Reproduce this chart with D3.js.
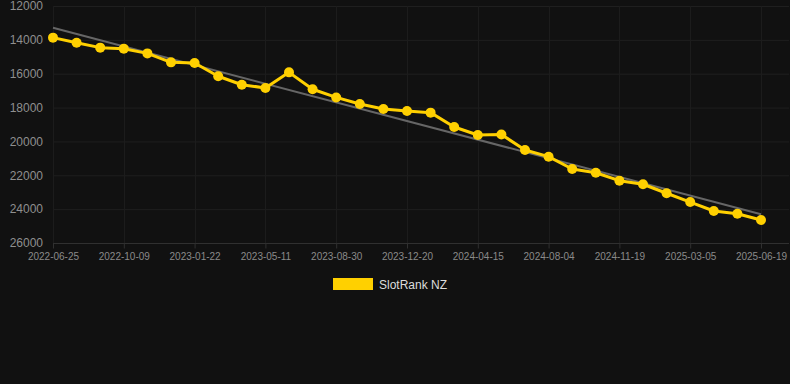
<!DOCTYPE html>
<html>
<head>
<meta charset="utf-8">
<script src="https://cdn.jsdelivr.net/npm/d3@7"></script>
<style>
  html, body { margin: 0; padding: 0; background: #111111; }
  svg { display: block; font-family: "Liberation Sans", Arial, sans-serif; }
</style>
</head>
<body>
<script>
// Data: category dates and rank values
var dates = [
  "2022-06-25", "2022-07-30", "2022-09-03", "2022-10-09", "2022-11-13", "2022-12-18",
  "2023-01-22", "2023-02-27", "2023-04-05", "2023-05-11", "2023-06-16", "2023-07-23",
  "2023-08-30", "2023-10-08", "2023-11-13", "2023-12-20", "2024-01-26", "2024-03-02",
  "2024-04-15", "2024-05-20", "2024-06-26", "2024-08-04", "2024-09-08", "2024-10-14",
  "2024-11-19", "2024-12-24", "2025-01-29", "2025-03-05", "2025-04-09", "2025-05-15",
  "2025-06-19"
];
var ranks = [
  13870, 14170, 14460, 14520, 14800, 15330,
  15370, 16150, 16650, 16840, 15920, 16920,
  17400, 17790, 18080, 18200, 18300, 19150,
  19620, 19590, 20510, 20900, 21630, 21850,
  22320, 22530, 23060, 23580, 24110, 24270,
  24640
];
var yTicks = [12000, 14000, 16000, 18000, 20000, 22000, 24000, 26000];
var seriesName = "SlotRank NZ";

// Set the dimensions and margins of the graph
var W = 790, H = 384;
var margin = {top: 6, right: 29, bottom: 141, left: 53},
    width = W - margin.left - margin.right,
    height = H - margin.top - margin.bottom;

var svg = d3.select("body")
  .append("svg")
    .attr("width", W)
    .attr("height", H);

svg.append("rect")
  .attr("width", W).attr("height", H)
  .attr("fill", "#111111");

var g = svg.append("g")
  .attr("transform", "translate(" + margin.left + "," + margin.top + ")");

// Scales
var x = d3.scalePoint()
  .domain(dates)
  .range([0, width]);

var y = d3.scaleLinear()
  .domain([12000, 26000])
  .range([0, height]);

// Horizontal grid
g.append("g")
  .selectAll("line")
  .data(yTicks)
  .enter()
  .append("line")
    .attr("x1", 0)
    .attr("x2", width + 28)
    .attr("y1", function(d) { return y(d) + 0.5; })
    .attr("y2", function(d) { return y(d) + 0.5; })
    .attr("stroke", function(d) { return d === 26000 ? "#303030" : "#1f1f1f"; })
    .attr("stroke-width", 1);

// Vertical grid at labelled dates
var labelDates = dates.filter(function(d, i) { return i % 3 === 0; });
g.append("g")
  .selectAll("line")
  .data(labelDates)
  .enter()
  .append("line")
    .attr("x1", function(d) { return Math.round(x(d)) + 0.5; })
    .attr("x2", function(d) { return Math.round(x(d)) + 0.5; })
    .attr("y1", 0)
    .attr("y2", height)
    .attr("stroke", "#1c1c1c");

// X axis
var xAxis = g.append("g")
  .attr("transform", "translate(0," + (height + 0.5) + ")")
  .call(d3.axisBottom(x).tickValues(labelDates).tickSize(5).tickPadding(4));
xAxis.select(".domain").remove();
xAxis.selectAll(".tick line").attr("stroke", "#303030");
xAxis.selectAll("text")
  .attr("fill", "#8a8a8a")
  .style("font-size", "10px")
  .style("font-family", "Liberation Sans, Arial, sans-serif");

// Y axis
var yAxis = g.append("g")
  .call(d3.axisLeft(y).tickValues(yTicks).tickSize(0).tickPadding(10).tickFormat(d3.format("d")));
yAxis.select(".domain").remove();
yAxis.selectAll("text")
  .attr("fill", "#8f8f8f")
  .style("font-size", "12px")
  .style("font-family", "Liberation Sans, Arial, sans-serif");

// Trend line (least squares on index)
var n = ranks.length;
var mx = d3.mean(ranks, function(d, i) { return i; });
var my = d3.mean(ranks);
var sxy = d3.sum(ranks, function(d, i) { return (i - mx) * (d - my); });
var sxx = d3.sum(ranks, function(d, i) { return (i - mx) * (i - mx); });
var slope = sxy / sxx, icpt = my - slope * mx;
var trend = [0, n - 1].map(function(i) { return {date: dates[i], v: icpt + slope * i}; });

g.append("path")
  .datum(trend)
  .attr("fill", "none")
  .attr("stroke", "#666666")
  .attr("stroke-width", 2)
  .attr("d", d3.line()
    .x(function(d) { return x(d.date); })
    .y(function(d) { return y(d.v); }));

// Series line
var yellow = "#ffd000";
g.append("path")
  .datum(ranks)
  .attr("fill", "none")
  .attr("stroke", yellow)
  .attr("stroke-width", 3)
  .attr("stroke-linejoin", "round")
  .attr("d", d3.line()
    .x(function(d, i) { return x(dates[i]); })
    .y(function(d) { return y(d); }));

// Dots
g.append("g")
  .selectAll("circle")
  .data(ranks)
  .enter()
  .append("circle")
    .attr("cx", function(d, i) { return x(dates[i]); })
    .attr("cy", function(d) { return y(d); })
    .attr("r", 5)
    .attr("fill", yellow);

// Legend
var legend = svg.append("g").attr("transform", "translate(333,278)");
legend.append("rect")
  .attr("width", 40).attr("height", 12)
  .attr("fill", yellow);
legend.append("text")
  .attr("x", 46).attr("y", 10.5)
  .attr("fill", "#dddddd")
  .style("font-size", "12px")
  .text(seriesName);
</script>
</body>
</html>
